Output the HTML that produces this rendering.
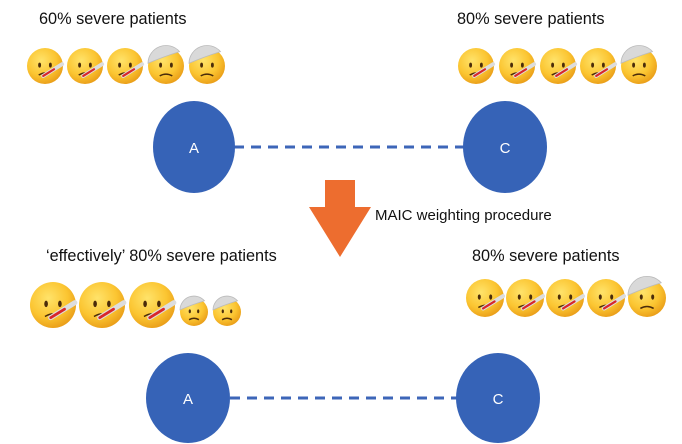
<!DOCTYPE html>
<html><head><meta charset="utf-8"><style>
html,body{margin:0;padding:0;background:#fff;width:682px;height:444px;overflow:hidden}
svg{display:block}
text{font-family:"Liberation Sans",sans-serif;fill:#111}
</style></head><body>
<svg id="s" width="682" height="444" viewBox="0 0 682 444">
<defs>
<radialGradient id="fg" cx="0.4" cy="0.35" r="0.7">
<stop offset="0" stop-color="#ffe36a"/><stop offset="0.6" stop-color="#fbc531"/><stop offset="1" stop-color="#e89a16"/>
</radialGradient>
</defs>
<text x="39" y="24" font-size="16.3">60% severe patients</text>
<text x="457" y="24" font-size="16.3">80% severe patients</text>
<line x1="234" y1="147" x2="464" y2="147" stroke="#3d66b8" stroke-width="3" stroke-dasharray="10,7"/>
<ellipse cx="194" cy="147" rx="41" ry="46" fill="#3663b7"/>
<text x="194" y="153" font-size="15" text-anchor="middle" style="fill:#fff">A</text>
<ellipse cx="505" cy="147" rx="42" ry="46" fill="#3663b7"/>
<text x="505" y="153" font-size="15" text-anchor="middle" style="fill:#fff">C</text>
<path d="M325 180 H355 V207 H371 L340 257 L309 207 H325 Z" fill="#ed6d2f"/>
<text x="375" y="220" font-size="15">MAIC weighting procedure</text>
<text x="46" y="261" font-size="16.3">‘effectively’ 80% severe patients</text>
<text x="472" y="261" font-size="16.3">80% severe patients</text>
<line x1="230" y1="398" x2="457" y2="398" stroke="#3d66b8" stroke-width="3" stroke-dasharray="10,7"/>
<ellipse cx="188" cy="398" rx="42" ry="45" fill="#3663b7"/>
<text x="188" y="404" font-size="15" text-anchor="middle" style="fill:#fff">A</text>
<ellipse cx="498" cy="398" rx="42" ry="45" fill="#3663b7"/>
<text x="498" y="404" font-size="15" text-anchor="middle" style="fill:#fff">C</text>
<g id="faces"></g>
</svg>
<script>
// faces: x, y, r, type (s = sick/thermometer, b = bandage)
const faceX = [45,85,125,166,207, 476,517,558,598,639, 53,102,152,194,227, 485,525,565,606,647];
const faceY = [66,66,66,66,66, 66,66,66,66,66, 305,305,305,312,312, 298,298,298,298,298];
const faceR = [18,18,18,18,18, 18,18,18,18,18, 23,23,23,14,14, 19,19,19,19,19];
const faceT = ['s','s','s','b','b', 's','s','s','s','b', 's','s','s','b','b', 's','s','s','s','b'];
const NS='http://www.w3.org/2000/svg';
const g=document.getElementById('faces');
function mk(t,a){const e=document.createElementNS(NS,t);for(const k in a)e.setAttribute(k,a[k]);return e;}
for(let i=0;i<faceX.length;i++){
  const x=faceX[i],y=faceY[i],r=faceR[i];
  const f=mk('g',{});
  
  
  f.appendChild(mk('circle',{cx:x,cy:y,r:r,fill:'url(#fg)'}));
  f.appendChild(mk('ellipse',{cx:x-r*0.3,cy:y-r*0.05,rx:r*0.08,ry:r*0.14,fill:'#4a2c0a'}));
  f.appendChild(mk('ellipse',{cx:x+r*0.3,cy:y-r*0.05,rx:r*0.08,ry:r*0.14,fill:'#4a2c0a'}));
  if(faceT[i]==='s'){
    f.appendChild(mk('path',{d:`M${x-r*0.35} ${y+r*0.5} Q${x} ${y+r*0.3} ${x+r*0.2} ${y+r*0.45}`,stroke:'#4a2c0a','stroke-width':1.5,fill:'none'}));
    f.appendChild(mk('line',{x1:x-r*0.1,y1:y+r*0.55,x2:x+r*0.95,y2:y-r*0.1,stroke:'#ddd','stroke-width':r*0.22,'stroke-linecap':'round'}));
    f.appendChild(mk('line',{x1:x-r*0.1,y1:y+r*0.55,x2:x+r*0.5,y2:y+r*0.18,stroke:'#d8262c','stroke-width':r*0.12,'stroke-linecap':'round'}));
  } else {
    f.appendChild(mk('path',{d:`M${x-r} ${y-r*0.15} Q${x-r*0.2} ${y-r*0.5} ${x+r*0.75} ${y-r*0.8} A${r} ${r} 0 0 0 ${x-r} ${y-r*0.15} Z`,fill:'#d9d9d9',stroke:'#bbb','stroke-width':0.8}));
    f.appendChild(mk('path',{d:`M${x-r*0.35} ${y+r*0.55} Q${x} ${y+r*0.35} ${x+r*0.35} ${y+r*0.55}`,stroke:'#4a2c0a','stroke-width':1.5,fill:'none'}));
  }
  g.appendChild(f);
}
</script>
</body></html>
